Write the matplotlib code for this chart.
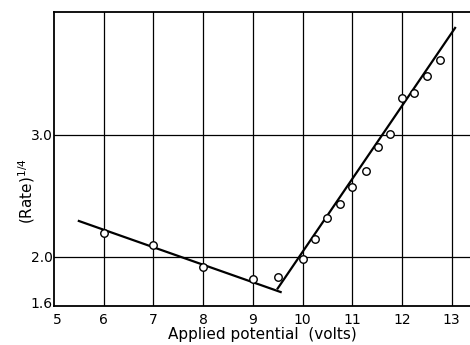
import numpy as np
import matplotlib.pyplot as plt
import matplotlib.transforms as mtransforms

# puntos medidos: (Rate)^1/4 frente al potencial aplicado
volts = [6.0, 7.0, 8.0, 9.0, 9.5, 10.0, 10.26, 10.5, 10.76, 11.0, 11.27,
         11.51, 11.76, 12.0, 12.25, 12.5, 12.76]
rate_q = [2.20, 2.095, 1.92, 1.82, 1.84, 1.98, 2.145, 2.32, 2.435, 2.575,
          2.70, 2.90, 3.005, 3.30, 3.34, 3.48, 3.605]

# rectas ajustadas a mano
low_x = [5.5, 9.56]
low_y = [2.294, 1.714]
high_x = [9.5, 13.07]
high_y = [1.743, 3.87]

x_ticks = [5, 6, 7, 8, 9, 10, 11, 12, 13]
y_ticks = [1.6, 2.0, 3.0]
y_labels = ["1.6", "2.0", "3.0"]

fig = plt.figure(figsize=(4.7, 3.45), dpi=100)
ax = fig.add_axes([54 / 470, 1 - 306 / 345, 1 - 54 / 470, 294 / 345])

ax.set_xlim(5, 13.37)
ax.set_ylim(1.6, 4.0)

# cuadricula
for xv in x_ticks[1:]:
    ax.axvline(xv, color="black", lw=0.9, zorder=1)
for yv in y_ticks[1:]:
    ax.axhline(yv, color="black", lw=0.9, zorder=1)

ax.plot(low_x, low_y, "-", color="black", lw=1.6, zorder=2)
ax.plot(high_x, high_y, "-", color="black", lw=1.6, zorder=2)
ax.plot(volts, rate_q, "o", ms=5.4, mfc="white", mec="black", mew=1.0,
        zorder=3, clip_on=False)

ax.set_xticks(x_ticks)
ax.set_xticklabels([str(v) for v in x_ticks])
ax.set_yticks(y_ticks)
ax.set_yticklabels(y_labels)
ax.tick_params(axis="both", length=0, labelsize=10)
ax.tick_params(axis="x", pad=5)
ax.tick_params(axis="y", pad=1)

# el "5" algo a la derecha y el "1.6" algo arriba, como en el original
fig.canvas.draw()
ax.get_xticklabels()[0].set_transform(
    ax.get_xticklabels()[0].get_transform()
    + mtransforms.ScaledTranslation(3 / 100, 0, fig.dpi_scale_trans))
ax.get_yticklabels()[0].set_transform(
    ax.get_yticklabels()[0].get_transform()
    + mtransforms.ScaledTranslation(0, 3 / 100, fig.dpi_scale_trans))

for s in ("left", "bottom", "top"):
    ax.spines[s].set_linewidth(1.3)
ax.spines["right"].set_visible(False)

ax.set_xlabel("Applied potential  (volts)", fontsize=11, labelpad=0)
ax.set_ylabel(r"(Rate)$^{\mathrm{1/4}}$", fontsize=11, va="center")
ax.yaxis.set_label_coords(-0.065, 0.39)

fig.savefig("out.png", dpi=100)
